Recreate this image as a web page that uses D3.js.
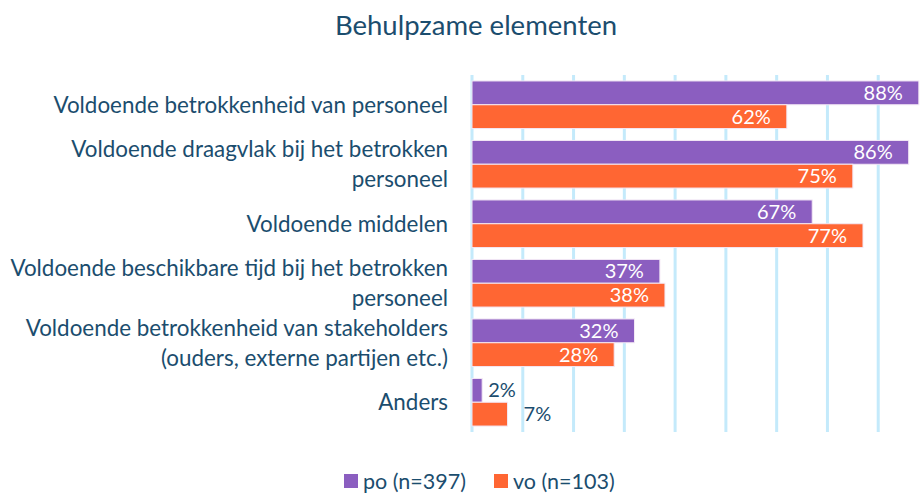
<!DOCTYPE html>
<meta charset="utf-8">
<style>
body { margin: 0; background: #fff; }
text { font-family: Lato, "Open Sans", sans-serif; fill: #1b4d6e; }
.grid line { stroke: #c4eafb; stroke-width: 3; }
</style>
<svg width="920" height="494"></svg>
<script src="https://d3js.org/d3.v7.min.js"></script>
<script>

var categories = [
  ["Voldoende betrokkenheid van personeel"],
  ["Voldoende draagvlak bij het betrokken", "personeel"],
  ["Voldoende middelen"],
  ["Voldoende beschikbare tijd bij het betrokken", "personeel"],
  ["Voldoende betrokkenheid van stakeholders", "(ouders, externe partijen etc.)"],
  ["Anders"]
];
var seriesNames = ["po (n=397)", "vo (n=103)"];
var po = [88, 86, 67, 37, 32, 2];
var vo = [62, 75, 77, 38, 28, 7];
var ticks = [0, 10, 20, 30, 40, 50, 60, 70, 80, 90];
var colors = ["#8b5ec0", "#ff6633"];

var svg = d3.select("svg"),
    margin = {top: 75, left: 472, bottom: 62},
    height = +svg.attr("height") - margin.top - margin.bottom;

var rows = categories.map(function(c, i) {
  return {label: c, values: [po[i], vo[i]], idx: i};
});

var y = d3.scaleBand().domain(d3.range(categories.length))
    .range([margin.top, margin.top + height]).paddingInner(0.2).paddingOuter(0.1);
var y1 = d3.scaleBand().domain([0, 1]).range([0, y.bandwidth()]);
var x = d3.scaleLinear().domain([0, 90]).range([margin.left, margin.left + 457]);

// title
svg.append("text")
    .attr("x", 476).attr("y", 25)
    .attr("text-anchor", "middle").attr("dy", "0.35em")
    .style("font-size", "27.5px")
    .text("Behulpzame elementen");

// vertical gridlines
svg.append("g").attr("class", "grid")
  .selectAll("line").data(ticks).enter().append("line")
    .attr("x1", function(d) { return x(d); })
    .attr("x2", function(d) { return x(d); })
    .attr("y1", margin.top)
    .attr("y2", margin.top + height);

// category labels
var lab = svg.append("g").selectAll("text").data(rows).enter().append("text")
    .attr("text-anchor", "end")
    .style("font-size", "22.4px")
    .attr("y", function(d) { return y(d.idx) + y.bandwidth() / 2; });
lab.selectAll("tspan").data(function(d) { return d.label.map(function(t, j) { return {t: t, j: j, n: d.label.length}; }); })
  .enter().append("tspan")
    .attr("x", 448)
    .attr("dy", function(d) { return d.j == 0 ? (0.35 - (d.n - 1) * 0.67) + "em" : "1.34em"; })
    .text(function(d) { return d.t; });

// bars
var grp = svg.append("g").selectAll("g").data(rows).enter().append("g")
    .attr("transform", function(d) { return "translate(0," + y(d.idx) + ")"; });

var cells = grp.selectAll("g").data(function(d) { return d.values.map(function(v, s) { return {v: v, s: s}; }); })
  .enter().append("g");

cells.append("rect")
    .attr("x", x(0))
    .attr("y", function(d) { return y1(d.s); })
    .attr("width", function(d) { return x(d.v) - x(0); })
    .attr("height", y1.bandwidth())
    .attr("fill", function(d) { return colors[d.s]; })
    .attr("stroke", "#f3e8f5")
    .attr("stroke-width", 1);

cells.append("text")
    .attr("x", function(d) { return d.v < 10 ? x(d.v) + (d.s == 0 ? 6 : 16) : x(d.v) - 16; })
    .attr("y", function(d) { return y1(d.s) + y1.bandwidth() / 2; })
    .attr("dy", "0.35em")
    .attr("text-anchor", function(d) { return d.v < 10 ? "start" : "end"; })
    .style("font-size", "20px")
    .style("fill", function(d) { return d.v < 10 ? "#1b4d6e" : "#fff"; })
    .text(function(d) { return d.v + "%"; });

// legend
var leg = svg.append("g").selectAll("g").data(seriesNames).enter().append("g")
    .attr("transform", function(d, i) { return "translate(" + (i == 0 ? 344 : 494) + ",474)"; });
leg.append("rect").attr("width", 14).attr("height", 14)
    .attr("fill", function(d, i) { return colors[i]; });
leg.append("text").attr("x", 19).attr("y", 7).attr("dy", "0.35em")
    .style("font-size", "21.5px")
    .text(function(d) { return d; });

</script>
